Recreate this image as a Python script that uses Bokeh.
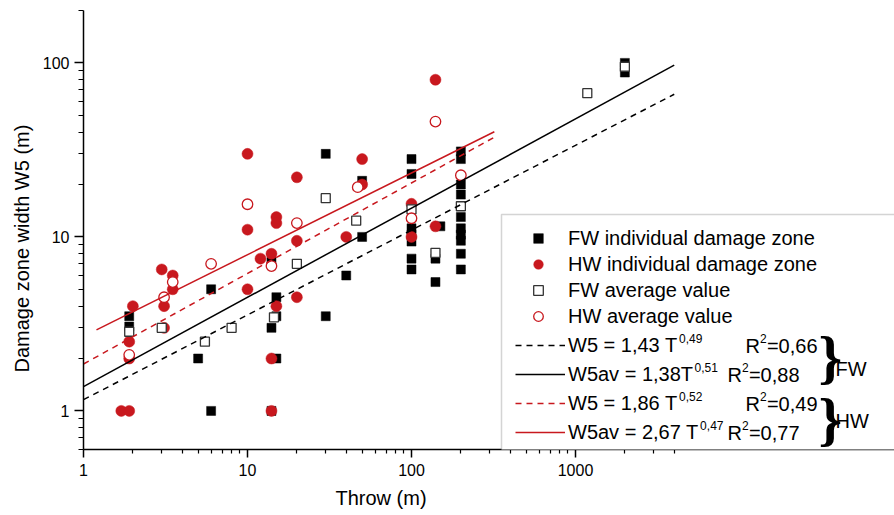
import math
from bokeh.plotting import figure
from bokeh.models import (Range1d, FixedTicker, PrintfTickFormatter, Legend,
                          LegendItem, Label, BoxAnnotation, Title)
from bokeh.embed import file_html
from bokeh.resources import INLINE

# ---------------- data ----------------
fw_ind_t = [1.9, 1.9, 5, 6, 6, 14, 14, 14, 15, 15, 15, 30, 30, 40, 50, 50,
            100, 100, 100, 100, 100, 100, 100, 150, 140, 140,
            200, 200, 200, 200, 200, 200, 200, 200, 200, 200, 2000, 2000]
fw_ind_w = [3.5, 3.05, 2, 5, 1, 3, 7.2, 1, 4.5, 3.5, 2, 30, 3.5, 6, 21, 10,
            28, 23, 11.2, 10.3, 9.4, 7.5, 6.5, 11.5, 7.5, 5.5,
            31, 28, 20, 17.5, 13, 11.2, 10.3, 9.5, 8, 6.5, 100, 88]

hw_ind_t = [1.7, 1.9, 2, 1.9, 1.9, 3, 3.1, 3.1, 3.5, 3.5, 10, 10, 10, 12, 14,
            14, 14, 15, 15, 15, 20, 20, 20, 40, 50, 50, 100, 100, 140, 140]
hw_ind_w = [1, 1, 4, 2.5, 2.0, 6.5, 4, 3, 6, 5, 30, 11, 5, 7.5, 8,
            2, 1, 13, 12, 4, 22, 9.5, 4.5, 10, 28, 20, 15.5, 10, 80, 11.5]

fw_av_t = [1.9, 3, 5.5, 8, 14.5, 20, 30, 46, 100, 140, 200, 1180, 2000]
fw_av_w = [2.85, 3, 2.5, 3, 3.45, 7, 16.7, 12.4, 14.4, 8.1, 15, 67, 95]

hw_av_t = [1.9, 3.1, 3.5, 6, 10, 14, 20, 47, 100, 140, 200]
hw_av_w = [2.1, 4.5, 5.5, 7, 15.4, 6.8, 12, 19.3, 12.8, 46, 22.6]

# fitted power-law lines (end points)
fit_fw_ind_t = [1, 4000]
fit_fw_ind_w = [1.16, 66]
fit_fw_av_t = [1, 4000]
fit_fw_av_w = [1.38, 97]
fit_hw_ind_t = [1, 320]
fit_hw_ind_w = [1.86, 37.4]
fit_hw_av_t = [1.2, 320]
fit_hw_av_w = [2.92, 40.2]

marker_labels = ["FW individual damage zone", "HW individual damage zone",
                 "FW average value", "HW average value"]
fit_base = ["W5 = 1,43 T", "W5av = 1,38T", "W5 = 1,86 T", "W5av = 2,67 T"]
fit_exp = ["0,49", "0,51", "0,52", "0,47"]
fit_r2 = ["=0,66", "=0,88", "=0,49", "=0,77"]
groups = ["FW", "HW"]

x_major = [1, 10, 100, 1000]
x_minor = [2, 3, 4, 5, 6, 7, 8, 9, 20, 30, 40, 50, 60, 70, 80, 90,
           200, 300, 400, 500, 600, 700, 800, 900, 2000, 3000, 4000]
y_major = [1, 10, 100]
y_minor = [0.6, 0.7, 0.8, 0.9, 2, 3, 4, 5, 6, 7, 8, 9,
           20, 30, 40, 50, 60, 70, 80, 90, 200]

# ---------------- styling ----------------
RED = "#c8181e"
FONT = "Liberation Sans"

W, H = 894, 515
FL, FT, FB = 83, 10, 449          # frame edges in canvas px
decades = (W - FL) / 164.0

p = figure(width=W, height=H, x_axis_type="log", y_axis_type="log",
           x_range=Range1d(1, 10 ** decades), y_range=Range1d(0.6, 200),
           output_backend="svg", toolbar_location=None,
           min_border_left=FL, min_border_right=0,
           min_border_top=FT, min_border_bottom=H - FB)
p.outline_line_color = None
p.grid.visible = False
p.background_fill_color = "white"

for ax in (p.xaxis, p.yaxis):
    ax.axis_line_width = 1.5
    ax.axis_line_color = "black"
    ax.major_tick_line_width = 1.5
    ax.minor_tick_line_width = 1.2
    ax.major_tick_in = 0
    ax.minor_tick_in = 0
    ax.major_label_text_font = FONT
    ax.major_label_text_font_size = "16px"
    ax.major_label_text_color = "black"
    ax.formatter = PrintfTickFormatter(format="%d")

p.xaxis.ticker = FixedTicker(ticks=x_major, minor_ticks=x_minor)
p.yaxis.ticker = FixedTicker(ticks=y_major, minor_ticks=y_minor)
p.xaxis.major_tick_out = 8
p.xaxis.minor_tick_out = 4
p.yaxis.major_tick_out = 9
p.yaxis.minor_tick_out = 5
p.xaxis.major_label_standoff = 6
p.yaxis.major_label_standoff = 5

# axis titles (placed as titles so that they sit where the reference has them)
xt = Title(text="Throw (m)", align="left", offset=335 - FL,
           text_font=FONT, text_font_size="20px", text_font_style="normal",
           text_color="black", standoff=12)
p.add_layout(xt, "below")
yt = Title(text="Damage zone width W5 (m)", align="left", offset=FB - 372,
           text_font=FONT, text_font_size="20px", text_font_style="normal",
           text_color="black", standoff=14)
p.add_layout(yt, "left")

# ---------------- marks ----------------
r_fw_ind = p.scatter(fw_ind_t, fw_ind_w, marker="square", size=9,
                     fill_color="black", line_color="black", line_width=0.5)
r_hw_ind = p.scatter(hw_ind_t, hw_ind_w, marker="circle", size=11,
                     fill_color=RED, line_color=RED, line_width=0.5)
r_fw_av = p.scatter(fw_av_t, fw_av_w, marker="square", size=9,
                    fill_color="white", line_color="#333333", line_width=1.3)
r_hw_av = p.scatter(hw_av_t, hw_av_w, marker="circle", size=10.5,
                    fill_color="white", line_color=RED, line_width=1.3)

l_fw_ind = p.line(fit_fw_ind_t, fit_fw_ind_w, line_color="black",
                  line_width=1.5, line_dash="6 5")
l_fw_av = p.line(fit_fw_av_t, fit_fw_av_w, line_color="black", line_width=1.5)
l_hw_ind = p.line(fit_hw_ind_t, fit_hw_ind_w, line_color=RED,
                  line_width=1.5, line_dash="6 5")
l_hw_av = p.line(fit_hw_av_t, fit_hw_av_w, line_color=RED, line_width=1.5)

# ---------------- legend ----------------
BOX_L, BOX_T, BOX_B = 501, 214, 452   # canvas px
box = BoxAnnotation(left=BOX_L - FL, right=W + 20 - FL,
                    bottom=FB - BOX_B, top=FB - BOX_T,
                    left_units="screen", right_units="screen",
                    bottom_units="screen", top_units="screen",
                    fill_color="white", fill_alpha=1.0,
                    line_color="#707070", line_width=1.5)
p.add_layout(box)

ROWH = 24
LFS = 20
SP1, SP2 = 2, 5
mk_top = 238 - ROWH // 2
leg1 = Legend(items=[LegendItem(label=marker_labels[0], renderers=[r_fw_ind]),
                     LegendItem(label=marker_labels[1], renderers=[r_hw_ind]),
                     LegendItem(label=marker_labels[2], renderers=[r_fw_av]),
                     LegendItem(label=marker_labels[3], renderers=[r_hw_av])],
              location=(515 - FL, FB - (mk_top + 4 * ROWH + 3 * SP1)),
              spacing=SP1, padding=0, margin=0,
              glyph_width=46, glyph_height=ROWH, label_height=ROWH,
              label_standoff=7, border_line_color=None,
              background_fill_alpha=0,
              label_text_font=FONT, label_text_font_size=f"{LFS}px",
              label_text_color="black")

ln_top = 345 - ROWH // 2
leg2 = Legend(items=[LegendItem(label=fit_base[0], renderers=[l_fw_ind]),
                     LegendItem(label=fit_base[1], renderers=[l_fw_av]),
                     LegendItem(label=fit_base[2], renderers=[l_hw_ind]),
                     LegendItem(label=fit_base[3], renderers=[l_hw_av])],
              location=(515 - FL, FB - (ln_top + 4 * ROWH + 3 * SP2)),
              spacing=SP2, padding=0, margin=0,
              glyph_width=50, glyph_height=ROWH, label_height=ROWH,
              label_standoff=3, border_line_color=None,
              background_fill_alpha=0,
              label_text_font=FONT, label_text_font_size=f"{LFS}px",
              label_text_color="black")
p.add_layout(leg1)
p.add_layout(leg2)

# approximate advance widths (em) of the sans font, used to place superscripts
ADV = {"W": .944, "5": .556, " ": .278, "=": .584, ",": .278, "T": .611,
       "a": .556, "v": .5, "R": .722}
def tw(s, size):
    return sum(ADV.get(c, .556) for c in s) * size

SFS = 12
row_cy = [ln_top + ROWH / 2 + i * (ROWH + SP2) for i in range(4)]
sup_end = []
for i in range(4):
    x0 = 568 + tw(fit_base[i], LFS) + 1
    p.add_layout(Label(x=x0 - FL, y=FB - (row_cy[i] - 7), x_units="screen",
                       y_units="screen", text=fit_exp[i], text_font=FONT,
                       text_font_size=f"{SFS}px", text_baseline="middle",
                       text_color="black"))
    sup_end.append(x0 + tw(fit_exp[i], SFS))
r_x_short = max(724, max(sup_end[1], sup_end[3]) + 4)
r_x_long = max(742, r_x_short + 18)
for i in range(4):
    rx = r_x_long if i in (0, 2) else r_x_short
    p.add_layout(Label(x=rx - FL, y=FB - row_cy[i], x_units="screen",
                       y_units="screen", text="R", text_font=FONT,
                       text_font_size=f"{LFS}px", text_baseline="middle",
                       text_color="black"))
    sx = rx + tw("R", LFS)
    p.add_layout(Label(x=sx - FL, y=FB - (row_cy[i] - 7), x_units="screen",
                       y_units="screen", text="2", text_font=FONT,
                       text_font_size=f"{SFS}px", text_baseline="middle",
                       text_color="black"))
    p.add_layout(Label(x=sx + 7 - FL, y=FB - row_cy[i], x_units="screen",
                       y_units="screen", text=fit_r2[i], text_font=FONT,
                       text_font_size=f"{LFS}px", text_baseline="middle",
                       text_color="black"))

for grp, cy_b, cy_t in ((groups[0], 356, 368), (groups[1], 418, 420)):
    p.add_layout(Label(x=818 - FL, y=FB - cy_b, x_units="screen",
                       y_units="screen", text="}", text_font="Liberation Serif",
                       text_font_size="60px", text_font_style="bold",
                       text_baseline="middle", text_color="black"))
    p.add_layout(Label(x=835 - FL, y=FB - cy_t, x_units="screen",
                       y_units="screen", text=grp, text_font=FONT,
                       text_font_size=f"{LFS}px", text_baseline="middle",
                       text_color="black"))

open("out.html", "w").write(file_html(p, INLINE))
